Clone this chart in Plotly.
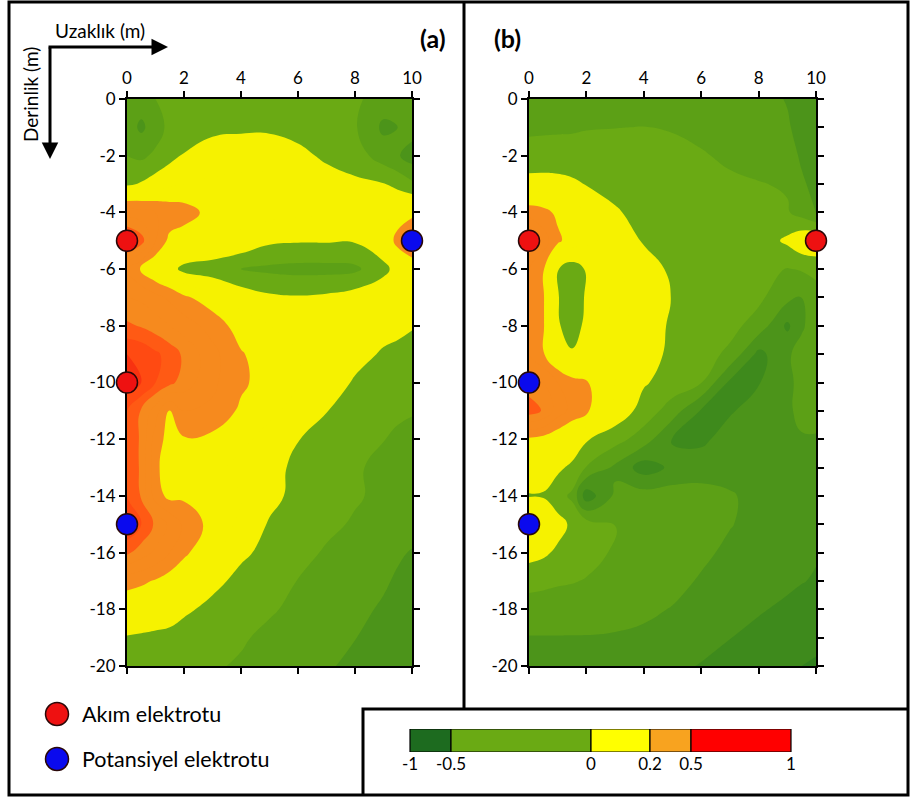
import plotly.graph_objects as go

W, H = 910, 800

# ---------------------------------------------------------------------------
# Data: sensitivity values on a (distance, depth) grid, rows from 0 m down
# ---------------------------------------------------------------------------
x_grid = [0, 0.5, 1, 1.5, 2, 3, 4, 5, 6, 7, 8, 9, 9.5, 10]
y_grid = [0, -1, -2, -3, -4, -5, -6, -7, -8, -9, -10,
          -11, -12, -13, -14, -15, -16, -17, -18, -19, -20]

field_a = [
    [-0.12, -0.15, -0.10, -0.06, -0.05, -0.05, -0.05, -0.05, -0.05, -0.05, -0.08, -0.15, -0.18, -0.12],
    [-0.15, -0.22, -0.15, -0.07, -0.03, -0.02, -0.02, -0.02, -0.04, -0.06, -0.09, -0.22, -0.20, -0.15],
    [-0.10, -0.12, -0.08, -0.03, 0.005, 0.04, 0.07, 0.07, 0.03, -0.02, -0.05, -0.15, -0.19, -0.25],
    [-0.02, 0.01, 0.05, 0.08, 0.10, 0.12, 0.12, 0.12, 0.10, 0.05, 0.02, 0.005, -0.03, -0.08],
    [0.35, 0.33, 0.30, 0.27, 0.25, 0.16, 0.13, 0.13, 0.12, 0.10, 0.08, 0.07, 0.12, 0.15],
    [0.65, 0.55, 0.30, 0.17, 0.14, 0.12, 0.08, 0.02, 0.01, 0.01, 0.01, 0.08, 0.25, 0.40],
    [0.30, 0.19, 0.10, 0.04, -0.03, -0.06, -0.10, -0.12, -0.13, -0.13, -0.12, -0.03, 0.04, 0.06],
    [0.40, 0.38, 0.33, 0.28, 0.22, 0.14, 0.06, 0.02, 0.01, 0.02, 0.05, 0.08, 0.09, 0.10],
    [0.52, 0.49, 0.45, 0.40, 0.35, 0.26, 0.15, 0.10, 0.08, 0.06, 0.04, 0.03, 0.03, 0.01],
    [0.70, 0.68, 0.62, 0.56, 0.48, 0.33, 0.21, 0.14, 0.10, 0.06, 0.03, -0.01, -0.03, -0.05],
    [0.75, 0.70, 0.60, 0.53, 0.45, 0.32, 0.22, 0.15, 0.10, 0.05, -0.01, -0.05, -0.07, -0.09],
    [0.60, 0.49, 0.35, 0.18, 0.30, 0.28, 0.18, 0.12, 0.07, 0.003, -0.04, -0.07, -0.09, -0.095],
    [0.60, 0.48, 0.25, 0.16, 0.19, 0.17, 0.12, 0.07, 0.003, -0.04, -0.07, -0.098, -0.11, -0.12],
    [0.60, 0.48, 0.22, 0.15, 0.14, 0.12, 0.08, 0.03, -0.02, -0.06, -0.09, -0.12, -0.13, -0.14],
    [0.60, 0.49, 0.25, 0.17, 0.18, 0.17, 0.10, 0.03, -0.03, -0.06, -0.09, -0.12, -0.14, -0.15],
    [0.70, 0.60, 0.48, 0.38, 0.28, 0.16, 0.08, -0.01, -0.05, -0.08, -0.11, -0.14, -0.16, -0.17],
    [0.52, 0.45, 0.38, 0.30, 0.22, 0.12, 0.02, -0.03, -0.07, -0.11, -0.14, -0.17, -0.19, -0.205],
    [0.24, 0.22, 0.19, 0.15, 0.12, 0.03, -0.03, -0.07, -0.102, -0.13, -0.16, -0.19, -0.21, -0.22],
    [0.12, 0.11, 0.09, 0.07, 0.02, -0.03, -0.06, -0.09, -0.12, -0.15, -0.18, -0.21, -0.23, -0.24],
    [-0.01, -0.02, -0.03, -0.04, -0.05, -0.07, -0.09, -0.12, -0.15, -0.17, -0.198, -0.23, -0.24, -0.25],
    [-0.03, -0.04, -0.05, -0.06, -0.07, -0.09, -0.11, -0.13, -0.16, -0.19, -0.22, -0.25, -0.26, -0.27],
]

field_b = [
    [-0.13, -0.13, -0.13, -0.13, -0.13, -0.13, -0.14, -0.14, -0.15, -0.16, -0.17, -0.205, -0.26, -0.28],
    [-0.11, -0.11, -0.11, -0.11, -0.105, -0.102, -0.098, -0.11, -0.13, -0.14, -0.16, -0.19, -0.23, -0.26],
    [-0.08, -0.075, -0.07, -0.065, -0.06, -0.055, -0.05, -0.06, -0.09, -0.12, -0.14, -0.17, -0.21, -0.24],
    [0.05, 0.05, 0.04, 0.02, -0.005, -0.03, -0.04, -0.05, -0.06, -0.08, -0.095, -0.11, -0.19, -0.22],
    [0.25, 0.23, 0.18, 0.14, 0.10, 0.01, -0.03, -0.04, -0.05, -0.06, -0.08, -0.09, -0.14, -0.205],
    [0.55, 0.35, 0.22, 0.15, 0.12, 0.07, -0.01, -0.03, -0.04, -0.05, -0.06, 0.02, 0.08, 0.10],
    [0.30, 0.21, 0.005, -0.05, 0.01, 0.10, 0.05, -0.02, -0.04, -0.05, -0.07, -0.105, -0.09, -0.08],
    [0.30, 0.21, 0.005, -0.05, 0.01, 0.12, 0.08, -0.005, -0.03, -0.05, -0.08, -0.17, -0.205, -0.13],
    [0.30, 0.21, 0.01, -0.04, 0.02, 0.12, 0.07, -0.02, -0.04, -0.07, -0.14, -0.32, -0.22, -0.13],
    [0.30, 0.21, 0.08, 0.01, 0.06, 0.11, 0.06, -0.03, -0.06, -0.12, -0.33, -0.22, -0.15, -0.12],
    [0.45, 0.40, 0.30, 0.24, 0.21, 0.10, 0.01, -0.04, -0.095, -0.32, -0.305, -0.24, -0.15, -0.12],
    [0.55, 0.49, 0.35, 0.27, 0.22, 0.07, -0.04, -0.15, -0.31, -0.31, -0.26, -0.24, -0.14, -0.12],
    [0.18, 0.16, 0.12, 0.07, 0.01, -0.06, -0.15, -0.305, -0.32, -0.26, -0.24, -0.23, -0.22, -0.22],
    [0.10, 0.06, 0.02, -0.02, -0.105, -0.22, -0.35, -0.28, -0.25, -0.24, -0.23, -0.23, -0.23, -0.23],
    [-0.01, -0.01, -0.06, -0.12, -0.36, -0.18, -0.155, -0.15, -0.16, -0.19, -0.23, -0.24, -0.25, -0.25],
    [0.25, 0.12, 0.04, -0.02, -0.05, -0.098, -0.13, -0.15, -0.17, -0.195, -0.23, -0.25, -0.26, -0.26],
    [0.04, 0.02, -0.02, -0.05, -0.07, -0.11, -0.14, -0.16, -0.18, -0.22, -0.25, -0.27, -0.28, -0.29],
    [-0.07, -0.08, -0.09, -0.095, -0.105, -0.13, -0.15, -0.17, -0.21, -0.26, -0.28, -0.28, -0.295, -0.31],
    [-0.14, -0.14, -0.14, -0.145, -0.15, -0.16, -0.18, -0.205, -0.24, -0.27, -0.29, -0.32, -0.34, -0.35],
    [-0.205, -0.205, -0.205, -0.205, -0.205, -0.21, -0.22, -0.24, -0.27, -0.298, -0.33, -0.36, -0.37, -0.38],
    [-0.24, -0.24, -0.24, -0.245, -0.25, -0.26, -0.27, -0.28, -0.305, -0.33, -0.36, -0.39, -0.40, -0.41],
]

# Electrode positions (distance m, depth m)
a_akim_x, a_akim_y = [0, 0], [-5, -10]
a_pot_x, a_pot_y = [10, 0], [-5, -15]
b_akim_x, b_akim_y = [0, 10], [-5, -5]
b_pot_x, b_pot_y = [0, 0], [-10, -15]

x_ticks = [0, 2, 4, 6, 8, 10]
y_ticks = [0, -2, -4, -6, -8, -10, -12, -14, -16, -18, -20]
y_tick_text = ["0", "-2", "-4", "-6", "-8", "-10", "-12", "-14", "-16", "-18", "-20"]

# Colour key
cbar_labels = ["-1", "-0.5", "0", "0.2", "0.5", "1"]
cbar_colors = ["#1d6b1f", "#6aaa14", "#ffff00", "#f8a31f", "#ff0000"]

legend_labels = ["Akım elektrotu", "Potansiyel elektrotu"]
akim_color = "#ee1111"
pot_color = "#0a0aee"

# ---------------------------------------------------------------------------
# Contour colours: one colour per 0.1 band from -1 to 1
# ---------------------------------------------------------------------------
band_colors = [
    "#1a681c", "#1e6c1e", "#22701e", "#24721e", "#2a781e",   # -1.0 .. -0.5
    "#32801e", "#3e8a1c", "#4c941a", "#5ca016", "#6aaa14",   # -0.5 .. 0.0
    "#f6f200", "#f6f200",                                    #  0.0 .. 0.2
    "#f68a1e", "#f68a1e", "#f68a1e",                         #  0.2 .. 0.5
    "#ff5a14", "#ff4a12", "#f83210", "#f02010", "#e81010",   #  0.5 .. 1.0
]
n_c = 21
scale = [[0.0, band_colors[0]], [0.3 / n_c - 0.001, band_colors[0]]]
for k, c in enumerate(band_colors):
    scale.append([(k + 0.3) / n_c, c])
    scale.append([(k + 1.3) / n_c - 0.001, c])
scale.append([1.0, band_colors[-1]])

FONT = "Lato, 'Open Sans', sans-serif"


def px(x):
    return x / W


def py(y):
    return 1 - y / H


fig = go.Figure()

for z, xa, ya in [(field_a, "x", "y"), (field_b, "x2", "y2")]:
    fig.add_trace(go.Contour(
        x=x_grid, y=y_grid, z=z, xaxis=xa, yaxis=ya,
        autocontour=False,
        contours=dict(start=-1, end=1, size=0.1, coloring="fill", showlines=False),
        line=dict(width=0, smoothing=1.3),
        colorscale=scale, showscale=False, hoverinfo="skip",
    ))

# invisible trace carrying the right-hand minor tick axis of panel (b)
fig.add_trace(go.Scatter(x=[None], y=[None], xaxis="x2", yaxis="y3",
                         showlegend=False, hoverinfo="skip"))

# colour key drawn as horizontal bars on its own axis
cbar_px = [410, 451, 591, 650, 691, 791]
fig.add_trace(go.Bar(
    x=[cbar_px[i + 1] - cbar_px[i] for i in range(len(cbar_colors))],
    base=cbar_px[:-1], y=[0] * len(cbar_colors), orientation="h", width=1,
    marker=dict(color=cbar_colors, line=dict(color="black", width=1.2)),
    xaxis="x3", yaxis="y4", showlegend=False, hoverinfo="skip",
))

# electrodes sit on their own overlay subplots so they cover the frame lines
marker_line = dict(color="#2a0808", width=1.5)
for xs, ys, col, xa, ya in [
    (a_akim_x, a_akim_y, akim_color, "x4", "y5"),
    (a_pot_x, a_pot_y, pot_color, "x4", "y5"),
    (b_akim_x, b_akim_y, akim_color, "x5", "y6"),
    (b_pot_x, b_pot_y, pot_color, "x5", "y6"),
]:
    fig.add_trace(go.Scatter(
        x=xs, y=ys, mode="markers", xaxis=xa, yaxis=ya, cliponaxis=False,
        marker=dict(size=21, color=col, line=marker_line),
        showlegend=False, hoverinfo="skip",
    ))

# electrode key
leg_x = [57, 57]
leg_y = [714, 759]
fig.add_trace(go.Scatter(
    x=leg_x, y=leg_y, mode="markers", xaxis="x6", yaxis="y7", cliponaxis=False,
    marker=dict(size=23, color=[akim_color, pot_color], line=marker_line),
    showlegend=False, hoverinfo="skip",
))

tickfont = dict(family=FONT, size=17, color="black")
ydom = [py(666), py(99)]
xdom_a = [px(127), px(412)]
xdom_b = [px(529), px(816)]

xcommon = dict(range=[0, 10], tickvals=x_ticks, ticktext=[str(v) for v in x_ticks],
               side="top", ticks="outside", ticklen=6, tickwidth=1.5, tickcolor="black",
               showline=True, linewidth=2, linecolor="black", mirror="ticks",
               showgrid=False, zeroline=False, tickfont=tickfont, fixedrange=True)
ycommon = dict(range=[-20, 0], tickvals=y_ticks, ticktext=y_tick_text,
               ticks="outside", ticklen=6, tickwidth=1.5, tickcolor="black",
               showline=True, linewidth=2, linecolor="black",
               showgrid=False, zeroline=False, tickfont=tickfont, fixedrange=True)
hidden = dict(visible=False, fixedrange=True)

fig.update_layout(
    width=W, height=H, margin=dict(l=0, r=0, t=0, b=0, autoexpand=False),
    paper_bgcolor="white", plot_bgcolor="rgba(0,0,0,0)",
    showlegend=False, font=dict(family=FONT, color="black"),
    xaxis=dict(domain=xdom_a, anchor="y", **xcommon),
    yaxis=dict(domain=ydom, anchor="x", mirror="ticks", **ycommon),
    xaxis2=dict(domain=xdom_b, anchor="y2", **xcommon),
    yaxis2=dict(domain=ydom, anchor="x2", mirror=True, **ycommon),
    yaxis3=dict(range=[-20, 0], overlaying="y2", side="right", anchor="x2",
                dtick=1, tick0=0, ticks="outside", ticklen=7, tickwidth=1.5,
                tickcolor="black", showticklabels=False, showline=False,
                showgrid=False, zeroline=False, fixedrange=True),
    xaxis3=dict(domain=[px(400), px(801)], range=[400, 801], anchor="y4",
                tickvals=cbar_px, ticktext=cbar_labels, ticks="", showline=False,
                showgrid=False, zeroline=False, fixedrange=True,
                tickfont=dict(family=FONT, size=17, color="black")),
    yaxis4=dict(domain=[py(752), py(729)], range=[-0.5, 0.5], anchor="x3", **hidden),
    xaxis4=dict(domain=xdom_a, range=[0, 10], anchor="y5", **hidden),
    yaxis5=dict(domain=ydom, range=[-20, 0], anchor="x4", **hidden),
    xaxis5=dict(domain=xdom_b, range=[0, 10], anchor="y6", **hidden),
    yaxis6=dict(domain=ydom, range=[-20, 0], anchor="x5", **hidden),
    xaxis6=dict(domain=[px(30), px(360)], range=[30, 360], anchor="y7", **hidden),
    yaxis7=dict(domain=[py(790), py(690)], range=[790, 690], anchor="x6", **hidden),
)

# frames around the panels and the colour key
frame = dict(color="black", width=3)
shapes = [
    dict(type="rect", xref="paper", yref="paper", x0=px(9), x1=px(908),
         y0=py(795), y1=py(2), line=frame),
    dict(type="line", xref="paper", yref="paper", x0=px(464), x1=px(464),
         y0=py(2), y1=py(709), line=frame),
    dict(type="path", xref="paper", yref="paper",
         path=f"M {px(363)},{py(795)} L {px(363)},{py(709)} L {px(908)},{py(709)}",
         line=frame),
]
fig.update_layout(shapes=shapes)

ann = [
    dict(text="Uzaklık (m)", x=px(100), y=py(31), font=dict(size=19)),
    dict(text="Derinlik (m)", x=px(30), y=py(95), textangle=-90, font=dict(size=19)),
    dict(text="<b>(a)</b>", x=px(433), y=py(38), font=dict(size=25)),
    dict(text="<b>(b)</b>", x=px(507), y=py(38), font=dict(size=25)),
]
annotations = []
for a in ann:
    a.update(xref="paper", yref="paper", showarrow=False,
             xanchor="center", yanchor="middle")
    annotations.append(a)

# axis direction arrows
annotations.append(dict(xref="paper", yref="paper", x=px(168), y=py(47), text="",
                        showarrow=True, ax=-121, ay=0, arrowhead=2, arrowsize=1.1,
                        arrowwidth=3, arrowcolor="black"))
annotations.append(dict(xref="paper", yref="paper", x=px(50), y=py(159), text="",
                        showarrow=True, ax=0, ay=-113, arrowhead=2, arrowsize=1.1,
                        arrowwidth=3, arrowcolor="black"))

for lab, yy in zip(legend_labels, leg_y):
    annotations.append(dict(xref="x6", yref="y7", x=80, y=yy, text=lab,
                            showarrow=False, xanchor="left", yanchor="middle",
                            font=dict(size=21.5)))

fig.update_layout(annotations=annotations)

fig.write_html("out.html")
